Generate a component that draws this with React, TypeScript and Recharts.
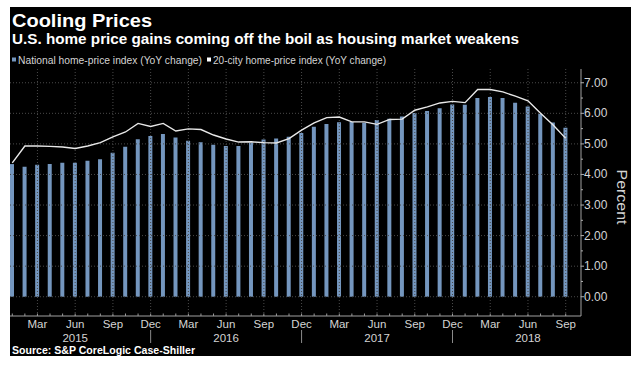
import { ComposedChart, Bar, Line, XAxis, YAxis, ReferenceLine } from "recharts";

const categories = [
  "Jan 2015", "Feb 2015", "Mar 2015", "Apr 2015", "May 2015", "Jun 2015",
  "Jul 2015", "Aug 2015", "Sep 2015", "Oct 2015", "Nov 2015", "Dec 2015",
  "Jan 2016", "Feb 2016", "Mar 2016", "Apr 2016", "May 2016", "Jun 2016",
  "Jul 2016", "Aug 2016", "Sep 2016", "Oct 2016", "Nov 2016", "Dec 2016",
  "Jan 2017", "Feb 2017", "Mar 2017", "Apr 2017", "May 2017", "Jun 2017",
  "Jul 2017", "Aug 2017", "Sep 2017", "Oct 2017", "Nov 2017", "Dec 2017",
  "Jan 2018", "Feb 2018", "Mar 2018", "Apr 2018", "May 2018", "Jun 2018",
  "Jul 2018", "Aug 2018", "Sep 2018",
];

// National home-price index, YoY %
const nationalIndex = [
  4.34, 4.25, 4.32, 4.34, 4.38, 4.38, 4.45, 4.5, 4.71, 4.91, 5.15, 5.26,
  5.32, 5.21, 5.1, 5.05, 4.97, 4.93, 4.93, 5.04, 5.14, 5.18, 5.23, 5.36,
  5.56, 5.65, 5.71, 5.72, 5.69, 5.78, 5.82, 5.9, 6.01, 6.08, 6.17, 6.29,
  6.28, 6.5, 6.53, 6.5, 6.35, 6.22, 5.98, 5.7, 5.53,
];

// 20-city home-price index, YoY %
const cityIndex = [
  4.38, 4.93, 4.93, 4.92, 4.9, 4.85, 4.93, 5.04, 5.23, 5.39, 5.67, 5.57,
  5.67, 5.42, 5.49, 5.47, 5.29, 5.16, 5.06, 5.07, 5.04, 5.03, 5.17, 5.45,
  5.69, 5.86, 5.88, 5.72, 5.72, 5.64, 5.8, 5.81, 6.1, 6.21, 6.34, 6.39,
  6.35, 6.78, 6.78, 6.7, 6.56, 6.41, 6.0, 5.62, 5.18,
];

const yTicks = [0, 0.5, 1, 1.5, 2, 2.5, 3, 3.5, 4, 4.5, 5, 5.5, 6, 6.5, 7];
const gridValues = [0, 1, 2, 3, 4, 5, 6, 7];
const quarterMonths = ["Mar", "Jun", "Sep", "Dec"];

const data = categories.map((month, i) => ({
  month,
  national: nationalIndex[i],
  city: cityIndex[i],
}));

const FONT = "'Liberation Sans Narrow', 'Liberation Sans', Arial, sans-serif";
const BAR_BLUE = "#7496be";
const LABEL = "#d4d4d4";

function MonthTick({ x, y, payload }: any) {
  const [mon, yr] = String(payload.value).split(" ");
  return (
    <g>
      <line x1={x} x2={x} y1={y - 2.5} y2={y} stroke="#9a9a9a" />
      {quarterMonths.includes(mon) && (
        <text x={x} y={y + 8} textAnchor="middle" dominantBaseline="central"
          fontFamily={FONT} fontSize={11.5} fill={LABEL}>{mon}</text>
      )}
      {mon === "Jun" && (
        <text x={x} y={y + 22} textAnchor="middle" dominantBaseline="central"
          fontFamily={FONT} fontSize={11.5} fill={LABEL}>{yr}</text>
      )}
      {mon === "Dec" && (
        <line x1={x} x2={x} y1={y + 14} y2={y + 27} stroke="#8a8a8a" />
      )}
    </g>
  );
}

function PercentTick({ x, y, payload }: any) {
  const v = Number(payload.value);
  const major = v % 1 === 0;
  return (
    <g>
      <line x1={x} x2={x + (major ? 3 : 2)} y1={y} y2={y} stroke="#b0b0b0" />
      {major && (
        <text x={x + 3} y={y} dominantBaseline="central" fontFamily={FONT}
          fontSize={12} fill={LABEL}>{v.toFixed(2)}</text>
      )}
    </g>
  );
}

export default function App() {
  return (
    <div style={{ position: "absolute", left: 0, top: 0, width: 638, height: 370, background: "#fff", overflow: "hidden" }}>
      <div style={{ position: "absolute", left: 10, top: 7, width: 621, height: 349, background: "#000", overflow: "hidden" }}>
        <div style={{ position: "absolute", left: -4, top: 0 }}>
          <ComposedChart width={625} height={349} data={data}
            margin={{ top: 62, right: 0, bottom: 0, left: 0 }}>
            <XAxis dataKey="month" height={40} interval={0} tickSize={0} tickMargin={0}
              tickLine={false} stroke="#a0a0a0" padding={{ left: 0, right: 9 }}
              tick={<MonthTick />} />
            <YAxis orientation="right" width={50} domain={[-0.63, 7.45]} allowDataOverflow
              ticks={yTicks} interval={0} tickSize={0} tickMargin={0} tickLine={false}
              stroke="#a0a0a0" tick={<PercentTick />} />
            {gridValues.map((g) => (
              <ReferenceLine key={"h" + g} y={g} stroke="#4a4a4a" strokeDasharray="1 2" />
            ))}
            {categories
              .filter((c) => quarterMonths.includes(c.split(" ")[0]))
              .map((c) => (
                <ReferenceLine key={"v" + c} x={c} stroke="#4a4a4a" strokeDasharray="1 2" />
              ))}
            <Bar dataKey="national" fill={BAR_BLUE} barSize={4} isAnimationActive={false} />
            <Line dataKey="city" type="linear" stroke="#e8e8e8" strokeWidth={1.4}
              dot={false} isAnimationActive={false} />
          </ComposedChart>
        </div>
      </div>
      <svg width={638} height={370} style={{ position: "absolute", left: 0, top: 0, pointerEvents: "none" }}>
        <text x={12} y={27} fontFamily={FONT} fontWeight="bold" fontSize={19} fill="#fff"
          textLength={140} lengthAdjust="spacingAndGlyphs">Cooling Prices</text>
        <text x={12} y={44} fontFamily={FONT} fontWeight="bold" fontSize={14.5} fill="#fff"
          textLength={507} lengthAdjust="spacingAndGlyphs">
          U.S. home price gains coming off the boil as housing market weakens
        </text>
        <rect x={12} y={57.5} width={4} height={4} fill={BAR_BLUE} />
        <text x={18} y={60} dominantBaseline="central" fontFamily={FONT} fontSize={10.5}
          fill={LABEL} textLength={184} lengthAdjust="spacingAndGlyphs">
          National home-price index (YoY change)
        </text>
        <rect x={207} y={57.5} width={4} height={4} fill="#fff" />
        <text x={213} y={60} dominantBaseline="central" fontFamily={FONT} fontSize={10.5}
          fill={LABEL} textLength={173} lengthAdjust="spacingAndGlyphs">
          20-city home-price index (YoY change)
        </text>
        <text x={622} y={197} dominantBaseline="central" textAnchor="middle" fontFamily={FONT}
          fontSize={14} fill={LABEL} transform="rotate(90, 622, 197)"
          textLength={55} lengthAdjust="spacingAndGlyphs">Percent</text>
        <text x={12} y={354} fontFamily={FONT} fontWeight="bold" fontSize={10.5} fill="#fff"
          textLength={183} lengthAdjust="spacingAndGlyphs">Source: S&amp;P CoreLogic Case-Shiller</text>
      </svg>
    </div>
  );
}
